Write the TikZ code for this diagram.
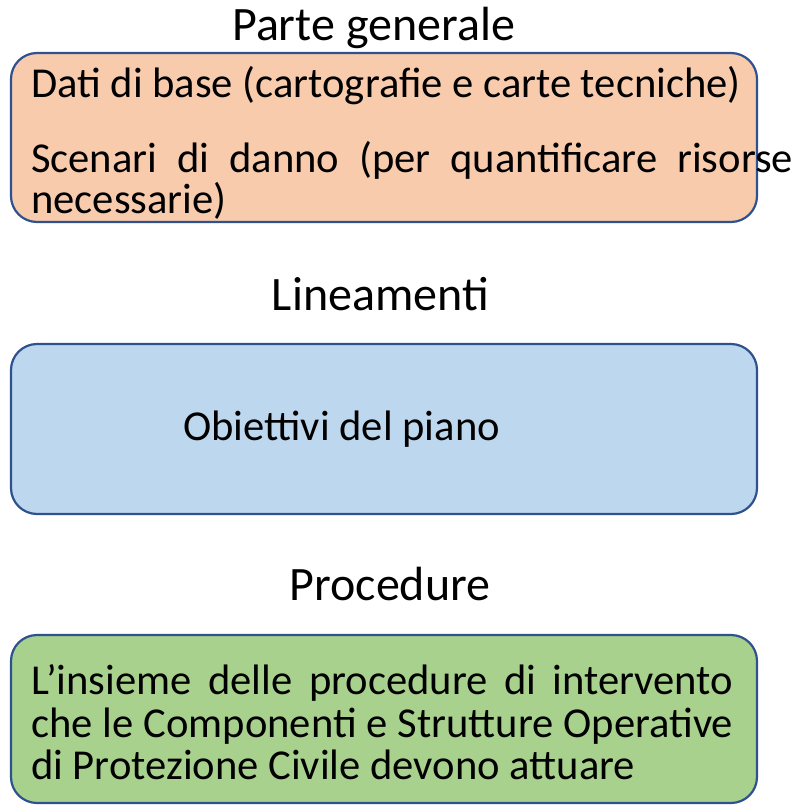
\documentclass[tikz,border=0pt]{standalone}
\usepackage{fontspec}
\setmainfont{Carlito}
\newfontfamily\ligfont{Carlito}[Ligatures=Rare]
\newcommand{\tlig}[1]{{\ligfont #1}}
\definecolor{boxline}{HTML}{2F528F}
\definecolor{orangefill}{HTML}{F8CBAD}
\definecolor{bluefill}{HTML}{BDD7EE}
\definecolor{greenfill}{HTML}{A9D18E}
\tikzset{
  panel/.style={draw=boxline, line width=2.2pt, rounded corners=26pt, minimum width=746pt, inner sep=0pt},
  titletext/.style={font=\fontsize{48}{50}\selectfont, inner sep=0pt, anchor=base},
  bodytext/.style={font=\fontsize{42.6}{43}\selectfont, inner sep=0pt, anchor=base west},
}
\begin{document}
\begin{tikzpicture}[x=1pt,y=-1pt]
\useasboundingbox (0,0) rectangle (800,805);
% panels
\node[panel, fill=orangefill, minimum height=169pt] (p1) at (384,137.5) {};
\node[panel, fill=bluefill, minimum height=170pt] (p2) at (384,429) {};
\node[panel, fill=greenfill, minimum height=168pt] (p3) at (384,719) {};
% titles
\node[titletext] (t1) at (373.5,41) {Parte generale};
\node[titletext] (t2) at (380.5,310) {\tlig{Lineamenti}};
\node[titletext] (t3) at (390,600) {Procedure};
% texts
\node[bodytext] (a1) at (31,98) {\tlig{Dati} di base (cartografie e carte tecniche)};
\node[bodytext] (a2) at (31,172) {\makebox[762pt][s]{Scenari di danno (per quantificare risorse}};
\node[bodytext] (a3) at (31,213) {necessarie)};
\node[bodytext] (b1) at (183,440) {\tlig{Obiettivi} del piano};
\node[bodytext] (c1) at (31,694) {\makebox[702pt][s]{L’insieme delle procedure di intervento}};
\node[bodytext] (c2) at (31,737) {\makebox[702pt][s]{che le \tlig{Componenti} e \tlig{Strutture} \tlig{Operative}}};
\node[bodytext] (c3) at (31,779) {di Protezione Civile devono \tlig{attuare}};
\end{tikzpicture}
\end{document}
